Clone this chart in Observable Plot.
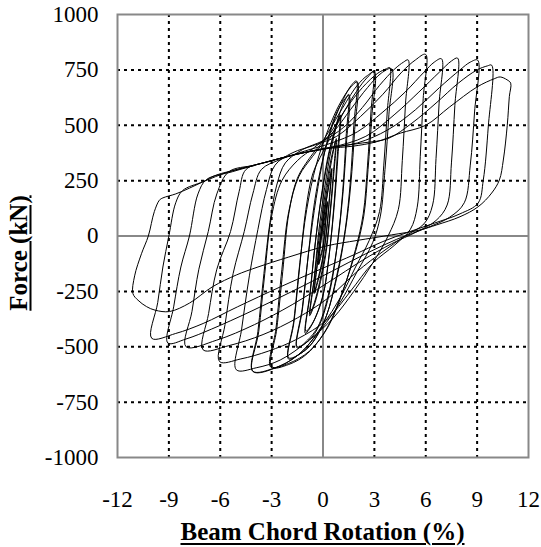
<!DOCTYPE html>
<html><head><meta charset="utf-8">
<script src="https://cdn.jsdelivr.net/npm/d3@7"></script>
<script src="https://cdn.jsdelivr.net/npm/@observablehq/plot@0.6"></script>
<script>
if (document.fonts && document.fonts.load) {
  document.fonts.load('23px "Liberation Serif"', "0123456789-");
  document.fonts.load('bold 25px "Liberation Serif"', "Force");
}
</script>
<style>
html,body{margin:0;padding:0;background:#fff;}
#wrap{position:relative;width:541px;height:547px;font-family:"Liberation Serif";}
#pre{position:absolute;left:0;top:0;z-index:0;}
#chart{position:relative;z-index:1;}
#chart svg{display:block;}
.title{position:absolute;z-index:2;font-family:"Liberation Serif";font-weight:bold;font-size:25px;line-height:25px;color:#000;text-decoration:underline;text-decoration-thickness:2px;text-underline-offset:3px;white-space:nowrap;text-align:center;}
#xtitle{left:117px;width:411px;top:519px;}
#ytitle{left:17.5px;top:252.5px;width:200px;transform:translate(-50%,-50%) rotate(-90deg);}
</style></head><body>
<div id="wrap">
<svg id="pre" width="60" height="40" xmlns="http://www.w3.org/2000/svg"><text x="5" y="30" font-family="Liberation Serif" font-size="23" fill="#fff">0</text></svg>
<div id="chart"></div>
<div class="title" id="xtitle">Beam Chord Rotation (%)</div>
<div class="title" id="ytitle">Force (kN)</div>
</div>
<script>
const xTicks = [-12,-9,-6,-3,0,3,6,9,12];
const yTicks = [-1000,-750,-500,-250,0,250,500,750,1000];
const xGrid = [-9,-6,-3,3,6,9];
const yGrid = [-750,-500,-250,250,500,750];

// rotation (%), force (kN) pairs, one array per loading cycle
const cycle01 = [[0,0],[0.12,70],[0.25,150],[0.15,60],[0.02,-40],[-0.12,-80],[-0.25,-125]];
const cycle02 = [[-0.15,-40],[0,40],[0.12,90],[0.26,155],[0.14,50],[0,-50],[-0.26,-130]];
const cycle03 = [[-0.12,-20],[0.05,80],[0.25,190],[0.5,300],[0.38,180],[0.22,30],[0,-90],[-0.25,-180],[-0.5,-250]];
const cycle04 = [[-0.3,-110],[-0.1,20],[0.15,140],[0.35,230],[0.52,305],[0.38,170],[0.2,20],[0,-100],[-0.28,-200],[-0.52,-260]];
const cycle05 = [[-0.3,-100],[-0.05,60],[0.25,220],[0.5,340],[0.75,430],[0.6,280],[0.4,100],[0.15,-70],[-0.2,-210],[-0.5,-300],[-0.75,-350]];
const cycle06 = [[-0.5,-190],[-0.25,-20],[0.05,150],[0.35,300],[0.6,390],[0.78,440],[0.62,270],[0.4,80],[0.15,-90],[-0.25,-240],[-0.55,-320],[-0.78,-360]];
const cycle07 = [[-0.5,-180],[-0.25,20],[0.1,220],[0.5,400],[0.8,500],[1.0,545],[0.85,380],[0.65,150],[0.4,-60],[0.05,-250],[-0.4,-360],[-0.75,-410],[-1.0,-430]];
const cycle08 = [[-0.75,-260],[-0.45,-30],[-0.1,180],[0.35,380],[0.75,490],[1.02,545],[0.88,370],[0.65,130],[0.35,-90],[0,-270],[-0.45,-370],[-0.8,-420],[-1.03,-440]];
const cycle09 = [[-0.75,-250],[-0.4,0],[0,220],[0.5,420],[1.0,560],[1.3,615],[1.5,640],[1.35,450],[1.15,200],[0.85,-30],[0.4,-250],[-0.2,-400],[-0.8,-470],[-1.5,-500]];
const cycle10 = [[-1.2,-320],[-0.8,-50],[-0.4,170],[0.1,380],[0.7,540],[1.2,610],[1.52,635],[1.38,430],[1.15,180],[0.8,-60],[0.3,-270],[-0.3,-410],[-0.9,-470],[-1.52,-505]];
const cycle11 = [[-1.2,-330],[-0.85,-80],[-0.5,150],[0,350],[0.6,510],[1.2,620],[1.65,680],[1.95,700],[1.8,500],[1.6,250],[1.3,30],[0.8,-180],[0.2,-360],[-0.6,-480],[-1.3,-530],[-2.0,-550]];
const cycle12 = [[-1.7,-380],[-1.35,-120],[-0.95,120],[-0.4,320],[0.3,480],[1.0,600],[1.6,670],[2.0,695],[1.85,480],[1.62,230],[1.3,20],[0.8,-190],[0.1,-380],[-0.7,-490],[-1.4,-535],[-2.02,-555]];
const cycle13 = [[-1.7,-390],[-1.35,-130],[-1.0,120],[-0.6,280],[0,380],[0.8,500],[1.6,610],[2.3,690],[2.7,725],[2.95,745],[2.8,560],[2.6,320],[2.35,100],[1.9,-60],[1.2,-240],[0.3,-410],[-0.8,-520],[-2.0,-575],[-3.0,-590]];
const cycle14 = [[-2.7,-420],[-2.35,-160],[-2.0,100],[-1.5,260],[-0.8,350],[0,430],[1.0,560],[2.0,680],[2.6,725],[3.0,740],[2.85,540],[2.63,300],[2.38,90],[1.9,-70],[1.1,-260],[0.2,-420],[-0.9,-530],[-2.0,-580],[-3.05,-592]];
const cycle15 = [[-2.75,-420],[-2.4,-150],[-2.0,110],[-1.4,270],[-0.6,360],[0.3,450],[1.3,570],[2.3,670],[3.2,735],[3.7,755],[3.9,760],[3.75,560],[3.55,320],[3.3,110],[2.7,-20],[1.9,-140],[1.0,-280],[0,-400],[-1.2,-520],[-2.6,-590],[-4.09,-612]];
const cycle16 = [[-3.75,-430],[-3.4,-170],[-3.0,90],[-2.4,250],[-1.5,340],[-0.5,400],[0.6,470],[1.6,570],[2.6,670],[3.4,735],[4.0,755],[3.85,550],[3.62,300],[3.35,90],[2.9,-30],[2.0,-160],[1.0,-300],[-0.1,-420],[-1.5,-540],[-2.8,-595],[-4.1,-610]];
const cycle17 = [[-3.8,-430],[-3.45,-170],[-3.1,60],[-2.7,230],[-2.2,330],[-1.2,390],[0,430],[1.2,490],[2.3,580],[3.3,680],[4.2,755],[4.7,785],[4.97,795],[4.82,600],[4.63,340],[4.4,120],[3.8,0],[2.9,-123],[1.8,-250],[0.6,-370],[-0.8,-470],[-2.5,-560],[-3.9,-595],[-5.06,-604]];
const cycle18 = [[-4.75,-420],[-4.3,-180],[-3.8,30],[-3.3,210],[-2.8,320],[-1.8,375],[-0.5,410],[0.8,450],[2.2,540],[3.5,640],[4.6,740],[5.4,795],[5.99,820],[5.85,620],[5.68,360],[5.5,130],[5.1,30],[4.2,-40],[2.9,-123],[1.6,-250],[0.2,-380],[-1.5,-465],[-3.2,-520],[-4.8,-555],[-6.04,-567]];
const cycle19 = [[-5.72,-400],[-5.25,-170],[-4.6,20],[-4.1,190],[-3.6,300],[-2.5,345],[-1.0,385],[0.5,420],[2.0,470],[3.5,560],[4.8,650],[5.9,740],[6.5,785],[6.92,800],[6.78,600],[6.6,350],[6.4,140],[5.9,55],[4.8,0],[3.5,-70],[2.0,-160],[0.3,-280],[-1.5,-370],[-3.5,-445],[-5.5,-495],[-7.0,-514]];
const cycle20 = [[-6.68,-350],[-6.2,-150],[-5.4,20],[-4.9,200],[-4.5,300],[-3.2,335],[-1.5,370],[0.5,400],[2.5,450],[4.2,550],[5.6,650],[6.8,740],[7.5,790],[7.86,803],[7.7,590],[7.5,330],[7.25,140],[6.6,70],[5.5,20],[4.0,-35],[2.3,-110],[0.3,-210],[-1.8,-310],[-4.0,-400],[-6.2,-470],[-8.0,-500]];
const cycle21 = [[-7.65,-340],[-7.25,-150],[-6.7,20],[-6.2,190],[-5.5,290],[-4.0,320],[-2.0,360],[0,395],[2.0,420],[3.8,480],[5.4,570],[6.8,670],[8.0,750],[8.6,785],[9.03,794],[8.85,560],[8.6,320],[8.25,150],[7.4,85],[6.0,35],[4.3,-15],[2.5,-80],[0.5,-160],[-1.8,-250],[-4.2,-340],[-6.5,-420],[-8.0,-465],[-9.06,-483]];
const cycle22 = [[-8.72,-320],[-8.3,-140],[-7.8,0],[-7.3,190],[-6.8,255],[-5.3,290],[-3.5,330],[-1.5,370],[0.5,400],[2.3,420],[3.8,440],[5.2,510],[6.6,600],[7.9,690],[9.0,750],[9.6,768],[9.85,771],[9.65,493],[9.36,253],[9.06,149],[8.0,100],[6.5,58],[5.0,18],[3.5,-25],[1.8,-85],[0,-145],[-2.5,-230],[-5.0,-320],[-7.0,-395],[-8.6,-440],[-10.0,-462]];
const cycle23 = [[-9.65,-300],[-9.35,-140],[-9.0,0],[-8.6,150],[-8.2,205],[-7.0,245],[-5.5,290],[-3.5,330],[-1.5,370],[0.3,395],[1.7,405],[3.1,425],[4.5,464],[6.0,500],[7.4,583],[9.0,673],[10.0,710],[10.35,718],[10.75,705],[10.96,690],[10.88,629],[10.76,500],[10.53,343],[10.3,253],[9.85,194],[9.06,132],[8.0,87],[6.63,50],[5.65,27],[4.0,5],[2.0,-20],[0.2,-45],[-2.0,-95],[-3.8,-140],[-5.06,-176],[-6.45,-229],[-7.8,-303],[-8.96,-341],[-9.8,-335],[-10.3,-319],[-10.8,-290],[-11.1,-260]];
const cycle24 = [[-11.0,-180],[-10.6,-80],[-10.2,0],[-9.85,110],[-9.55,162],[-9.35,172],[-8.6,190],[-7.8,216],[-7.0,245],[-6.23,275],[-5.0,300],[-4.0,318]];

const cycles = [cycle01,cycle02,cycle03,cycle04,cycle05,cycle06,cycle07,cycle08,cycle09,cycle10,cycle11,cycle12,
  cycle13,cycle14,cycle15,cycle16,cycle17,cycle18,cycle19,cycle20,cycle21,cycle22,cycle23,cycle24];
const points = cycles.flatMap(c => c.map(([rotation, force]) => ({rotation, force})));

const chart = Plot.plot({
  width: 541, height: 547,
  marginLeft: 117, marginRight: 13, marginTop: 14, marginBottom: 90,
  style: {fontFamily: "Liberation Serif", fontSize: "23px"},
  x: {domain: [-12, 12], ticks: xTicks, tickFormat: d => String(d), tickSize: 0, tickPadding: 33, label: null},
  y: {domain: [-1000, 1000], ticks: yTicks, tickFormat: d => String(d), tickSize: 0, tickPadding: 19, label: null},
  marks: [
    Plot.ruleX(xGrid, {stroke: "#000", strokeWidth: 2, strokeDasharray: "3,4"}),
    Plot.ruleY(yGrid, {stroke: "#000", strokeWidth: 2, strokeDasharray: "3,4"}),
    Plot.ruleX([0], {stroke: "#888", strokeWidth: 2}),
    Plot.ruleY([0], {stroke: "#888", strokeWidth: 2}),
    Plot.frame({stroke: "#888", strokeWidth: 2}),
    Plot.line(points, {x: "rotation", y: "force", stroke: "#000", strokeWidth: 1, curve: "catmull-rom"})
  ]
});
chart.setAttribute("font-family", "Liberation Serif");
chart.querySelectorAll("text").forEach(t => {
  t.setAttribute("font-family", "Liberation Serif");
  t.style.fontFamily = "Liberation Serif";
  t.setAttribute("fill", "#000");
});
document.getElementById("chart").appendChild(chart);
</script></body></html>
